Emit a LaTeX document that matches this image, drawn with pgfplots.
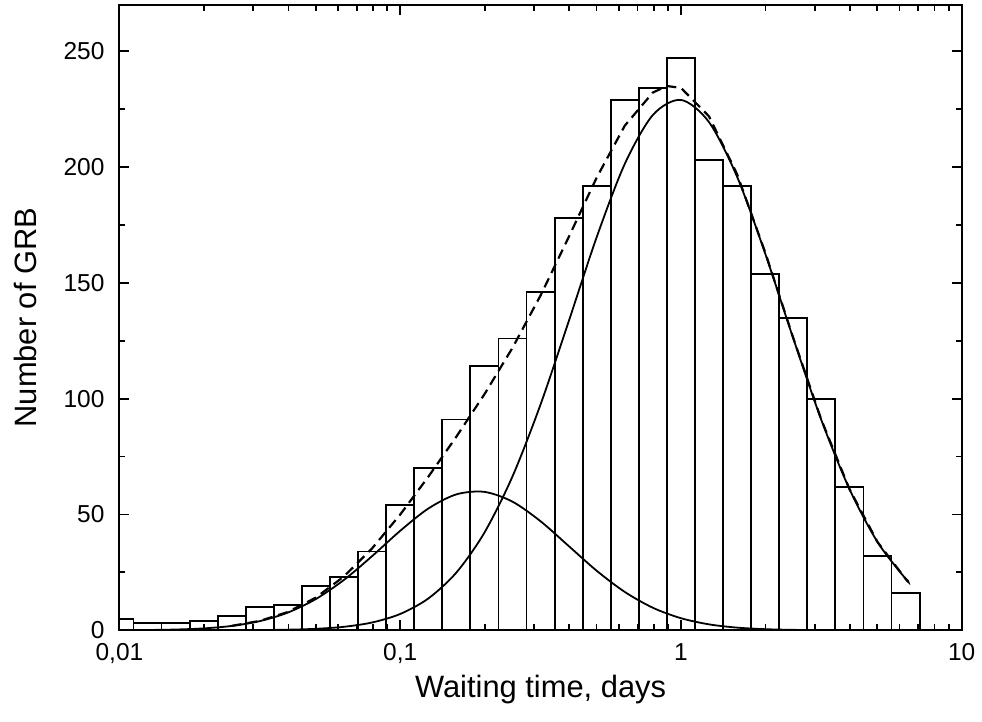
\documentclass[border=0pt]{standalone}
\usepackage{fontspec}
\setmainfont{Liberation Sans}
\usepackage{pgfplots}
\pgfplotsset{compat=1.18}

\begin{document}
\begin{tikzpicture}
\begin{axis}[
    scale only axis, width=423pt, height=314pt,
    xmode=log, log basis x=10,
    xmin=0.01, xmax=10, ymin=0, ymax=270,
    xtick={0.01,0.1,1,10},
    xticklabels={{0,01},{0,1},1,10},
    minor xtick={0.02,0.03,0.04,0.05,0.06,0.07,0.08,0.09,0.2,0.3,0.4,0.5,0.6,0.7,0.8,0.9,2,3,4,5,6,7,8,9},
    ytick={0,50,...,250},
    minor ytick={25,75,...,275},
    tick align=inside,
    major tick length=5pt, minor tick length=3pt,
    every tick/.style={black, line width=0.9pt},
    axis line style={line width=1pt},
    axis on top,
    /pgf/number format/assume math mode=true,
    tick label style={font=\fontsize{12.3}{14}\selectfont},
    xticklabel style={yshift=-3pt},
    yticklabel style={xshift=-4pt},
    label style={font=\fontsize{15.5}{18}\selectfont},
    xlabel={Waiting time, days},
    ylabel={Number of GRB},
    xlabel style={inner ysep=9pt, yshift=6.8pt},
    ylabel style={yshift=3pt, inner ysep=7pt},
    clip=true,
]
% histogram (left bin edges, counts)
\addplot[ybar interval, draw=black, fill=white, line width=0.9pt] coordinates {
 (0.0089125,5) (0.011220,3) (0.014125,3) (0.017783,4) (0.022387,6)
 (0.028184,10) (0.035481,11) (0.044668,19) (0.056234,23) (0.070795,34)
 (0.089125,54) (0.11220,70) (0.14125,91) (0.17783,114) (0.22387,126)
 (0.28184,146) (0.35481,178) (0.44668,192) (0.56234,229) (0.70795,234)
 (0.89125,247) (1.1220,203) (1.4125,192) (1.7783,154) (2.2387,135)
 (2.8184,100) (3.5481,62) (4.4668,32) (5.6234,16) (7.0795,16)
};
% short component
\addplot[black, line width=0.9pt, smooth] coordinates {
 (0.01,0.04) (0.012589,0.11) (0.015849,0.31) (0.019953,0.80) (0.025119,1.86)
 (0.031623,3.94) (0.039811,7.64) (0.050119,13.50) (0.063096,21.76) (0.079433,32.00)
 (0.1,42.93) (0.12589,52.54) (0.15849,58.67) (0.19953,59.75) (0.25119,55.52)
 (0.31623,47.06) (0.39811,36.39) (0.50119,25.67) (0.63096,16.53) (0.79433,9.70)
 (1,5.20) (1.2589,2.54) (1.5849,1.13) (1.9953,0.46) (2.5119,0.17) (3.1623,0.06)
};
% long component
\addplot[black, line width=0.9pt, smooth] coordinates {
 (0.01,0.0) (0.015849,0.003) (0.025119,0.03) (0.031623,0.09) (0.039811,0.24)
 (0.050119,0.62) (0.063096,1.49) (0.079433,3.35) (0.1,7.02) (0.12589,13.70)
 (0.15849,24.90) (0.19953,42.14) (0.25119,66.43) (0.31623,97.51) (0.39811,133.3)
 (0.50119,169.8) (0.63096,201.4) (0.79433,222.5) (1,229.0) (1.2589,219.4)
 (1.5849,195.8) (1.9953,162.7) (2.5119,126.0) (3.1623,90.8) (3.9811,61.0)
 (5.0119,38.1) (6.3096,22.2) (6.4565,21.0)
};
% sum
\addplot[black, line width=1.1pt, dash pattern=on 5pt off 3pt] coordinates {
 (0.025119,1.89) (0.031623,4.03) (0.039811,7.88) (0.050119,14.12) (0.063096,23.25)
 (0.079433,35.35) (0.1,49.95) (0.12589,66.24) (0.15849,83.57) (0.19953,101.89)
 (0.25119,121.95) (0.31623,144.57) (0.39811,169.7) (0.50119,195.5) (0.63096,217.9)
 (0.79433,232.2) (0.89125,235.0) (1,234.2) (1.2589,221.9) (1.5849,196.9)
 (1.9953,163.2) (2.5119,126.2) (3.1623,90.9) (3.9811,61.0) (5.0119,38.1)
 (6.3096,22.2) (6.4565,21.0)
};
\end{axis}
\path ([yshift=2.5pt]current axis.north);
\end{tikzpicture}
\end{document}
